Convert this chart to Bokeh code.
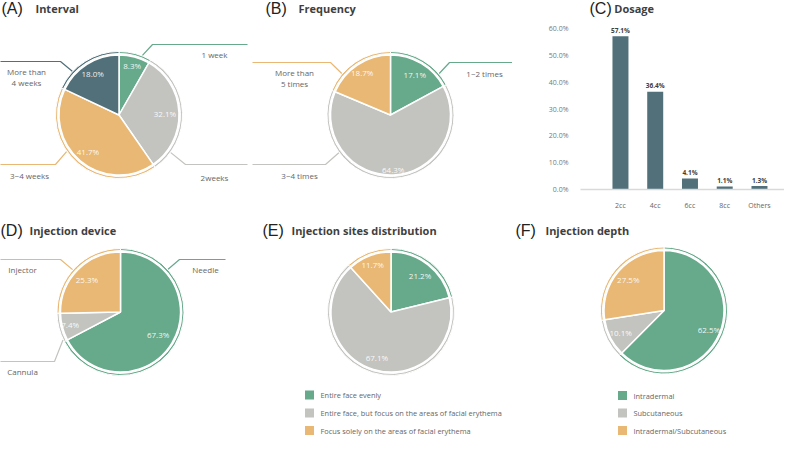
import math
from bokeh.plotting import figure
from bokeh.layouts import row, column
from bokeh.models import Range1d, FixedTicker, PrintfTickFormatter
from bokeh.core.properties import value
from bokeh.embed import file_html
from bokeh.resources import INLINE

# ---------------- data ----------------
interval_cats = ["1 week", "2weeks", "3~4 weeks", "More than\n4 weeks"]
interval_vals = [8.3, 32.1, 41.7, 18.0]

frequency_cats = ["1~2 times", "3~4 times", "More than\n5 times"]
frequency_vals = [17.1, 64.3, 18.7]

dosage_cats = ["2cc", "4cc", "6cc", "8cc", "Others"]
dosage_vals = [57.1, 36.4, 4.1, 1.1, 1.3]
dosage_ticks = [0, 10, 20, 30, 40, 50, 60]

device_cats = ["Needle", "Cannula", "Injector"]
device_vals = [67.3, 7.4, 25.3]

sites_cats = ["Entire face evenly",
              "Entire face, but focus on the areas of facial erythema",
              "Focus solely on the areas of facial erythema"]
sites_vals = [21.2, 67.1, 11.7]

depth_cats = ["Intradermal", "Subcutaneous", "Intradermal/Subcutaneous"]
depth_vals = [62.5, 10.1, 27.5]

# ---------------- styles ----------------
GREEN = "#67A98B"
GREY = "#C3C4BF"
ORANGE = "#E8B874"
DARK = "#51707A"
TXT = "#666666"
FONT = "Open Sans"


def panel(px0, py0, w, h, dx, dy):
    x0 = px0 - dx
    y0 = py0 - dy
    p = figure(width=w, height=h, x_range=Range1d(x0, x0 + w),
               y_range=Range1d(-(y0 + h), -y0), output_backend="svg",
               toolbar_location=None, min_border=0,
               x_axis_location=None, y_axis_location=None)
    p.grid.grid_line_color = None
    p.outline_line_color = None
    return p


def title(p, tag, tx, name, nx, y):
    p.text(x=[tx], y=[-y], text=[tag], text_font=value("Liberation Sans"),
           text_font_size="16px", text_color="#222222",
           text_align="left", text_baseline="middle")
    p.text(x=[nx], y=[-y - 0.5], text=[name], text_font=value(FONT),
           text_font_size="11px", text_font_style="bold", text_color="#3f3f3f",
           text_align="left", text_baseline="middle")


def pie(p, cx, cy, R, vals, colors, label_r):
    total = sum(vals)
    cum = 0.0
    starts, ends, mids = [], [], []
    for v in vals:
        a0 = math.pi / 2 - 2 * math.pi * cum / total
        cum += v
        a1 = math.pi / 2 - 2 * math.pi * cum / total
        starts.append(a1)
        ends.append(a0)
        mids.append((a0 + a1) / 2)
    n = len(vals)
    p.annular_wedge(x=[cx] * n, y=[-cy] * n, inner_radius=R - 2, outer_radius=R,
                    start_angle=starts, end_angle=ends, fill_color=colors,
                    line_color="white", line_width=1)
    p.wedge(x=[cx] * n, y=[-cy] * n, radius=R - 3.5, start_angle=starts,
            end_angle=ends, fill_color=colors, line_color="white", line_width=1.5)
    lx = [cx + r * math.cos(m) for r, m in zip(label_r, mids)]
    ly = [-cy + r * math.sin(m) for r, m in zip(label_r, mids)]
    p.text(x=lx, y=ly, text=[f"{v:.1f}%" for v in vals], text_font=value(FONT),
           text_font_size="8px", text_color="white", text_alpha=0.92,
           text_align="center", text_baseline="middle")


def callouts(p, cx, cy, R, cats, colors, geo):
    xs, ys = [], []
    for (ang, ex, ey, endx, _, _) in geo:
        a = math.radians(ang)
        sx = cx + (R + 0.5) * math.cos(a)
        sy = cy - (R + 0.5) * math.sin(a)
        xs.append([sx, ex, endx])
        ys.append([-sy, -ey, -ey])
    p.multi_line(xs=xs, ys=ys, line_color=colors, line_width=1.2)
    p.text(x=[g[4] for g in geo], y=[-g[5] for g in geo], text=cats,
           text_font=value(FONT), text_font_size="8px", text_color=TXT,
           text_align="center", text_baseline="middle", text_line_height=0.95)


def legend(p, sqx, tx, ys, cats, colors):
    p.scatter(x=[sqx] * len(cats), y=[-y for y in ys], marker="square", size=9,
              fill_color=colors, line_color=None)
    p.text(x=[tx] * len(cats), y=[-y for y in ys], text=cats, text_font=value(FONT),
           text_font_size="7.4px", text_color=TXT, text_align="left",
           text_baseline="middle")


ROW1_H = 218
ROW2_TOP = 8 + ROW1_H
ROW2_H = 444 - ROW2_TOP

# ---------------- (A) Interval ----------------
pa = panel(8, 8, 252, ROW1_H, 5, 5)
title(pa, "(A)", 4, "Interval", 38, 10.5)
colA = [GREEN, GREY, ORANGE, DARK]
pie(pa, 121.5, 117.5, 63.5, interval_vals, colA, [51, 46, 48, 49])
callouts(pa, 121.5, 117.5, 63.5, interval_cats, colA, [
    (68.5, 155, 47, 250, 217, 57),
    (-36, 188, 167, 250, 217, 180),
    (-145, 58, 167, -10, 32, 178),
    (136.9, 63, 64, -10, 29, 79.5),
])

# ---------------- (B) Frequency ----------------
pb = panel(260, 8, 260, ROW1_H, 5, 5)
title(pb, "(B)", 268, "Frequency", 301, 10.5)
colB = [GREEN, GREY, ORANGE]
pie(pb, 393, 117.5, 63.5, frequency_vals, colB, [47.6, 55, 51])
callouts(pb, 393, 117.5, 63.5, frequency_cats, colB, [
    (40.4, 452, 65, 520, 487, 76),
    (-143.8, 328, 167, 250, 302, 178),
    (139.6, 333, 65, 250, 297, 80.5),
])

# ---------------- (C) Dosage ----------------
pct = panel(520, 8, 272, 18, 5, 5)
title(pct, "(C)", 527, "Dosage", 560, 10.5)

pc = figure(width=272, height=ROW1_H - 18, x_range=Range1d(-1.15, 4.72),
            y_range=Range1d(0, 62.24), output_backend="svg",
            toolbar_location=None, min_border_left=68, min_border_right=0,
            min_border_top=4, min_border_bottom=ROW1_H - 18 - 171)
xpos = list(range(len(dosage_cats)))
pc.vbar(x=xpos, top=dosage_vals, width=0.46, fill_color=DARK, line_color=None)
pc.text(x=xpos, y=dosage_vals, text=[f"{v:.1f}%" for v in dosage_vals],
        y_offset=-1.5, text_font=value(FONT), text_font_size="6.5px",
        text_font_style="bold", text_color="#404040", text_align="center",
        text_baseline="bottom")
pc.grid.grid_line_color = None
pc.outline_line_color = None
pc.xaxis.ticker = FixedTicker(ticks=xpos)
pc.xaxis.major_label_overrides = {i: c for i, c in zip(xpos, dosage_cats)}
pc.xaxis.axis_line_color = "#D9D9D9"
pc.xaxis.axis_line_width = 1.5
pc.xaxis.major_tick_line_color = None
pc.xaxis.minor_tick_line_color = None
pc.xaxis.major_label_standoff = 5
pc.xaxis.major_label_text_font = FONT
pc.xaxis.major_label_text_font_size = "7px"
pc.xaxis.major_label_text_color = TXT
pc.yaxis.ticker = FixedTicker(ticks=dosage_ticks)
pc.yaxis.formatter = PrintfTickFormatter(format="%.1f%%")
pc.yaxis.axis_line_color = None
pc.yaxis.major_tick_line_color = None
pc.yaxis.minor_tick_line_color = None
pc.yaxis.major_label_standoff = 6
pc.yaxis.major_label_text_font = FONT
pc.yaxis.major_label_text_font_size = "7px"
pc.yaxis.major_label_text_color = "#777777"

# ---------------- (D) Injection device ----------------
pd_ = panel(8, ROW2_TOP, 252, ROW2_H, 5, -5)
title(pd_, "(D)", 3, "Injection device", 32, 242.5)
colD = [GREEN, GREY, ORANGE]
pie(pd_, 123, 324.5, 63.5, device_vals, colD, [44, 52, 47])
callouts(pd_, 123, 324.5, 63.5, device_cats, colD, [
    (42, 182, 272, 228, 208, 282),
    (-154, 57, 374, -10, 25, 384),
    (138.5, 63, 272, -10, 25, 282),
])

# ---------------- (E) Injection sites distribution ----------------
pe = panel(260, ROW2_TOP, 260, ROW2_H, 5, -5)
title(pe, "(E)", 265, "Injection sites distribution", 294, 242.5)
colE = [GREEN, GREY, ORANGE]
pie(pe, 393.5, 324.5, 63.5, sites_vals, colE, [47, 48, 51])
legend(pe, 312, 323, [407.5, 425.5, 443], sites_cats, colE)

# ---------------- (F) Injection depth ----------------
pf = panel(520, ROW2_TOP, 272, ROW2_H, 5, -5)
title(pf, "(F)", 518, "Injection depth", 548, 242.5)
colF = [GREEN, GREY, ORANGE]
pie(pf, 666.5, 323, 63.5, depth_vals, colF, [48.6, 48.7, 47])
legend(pf, 625, 636, [408, 425.5, 443], depth_cats, colF)

layout = column(row(pa, pb, column(pct, pc)), row(pd_, pe, pf))
open("out.html", "w").write(file_html(layout, INLINE))
